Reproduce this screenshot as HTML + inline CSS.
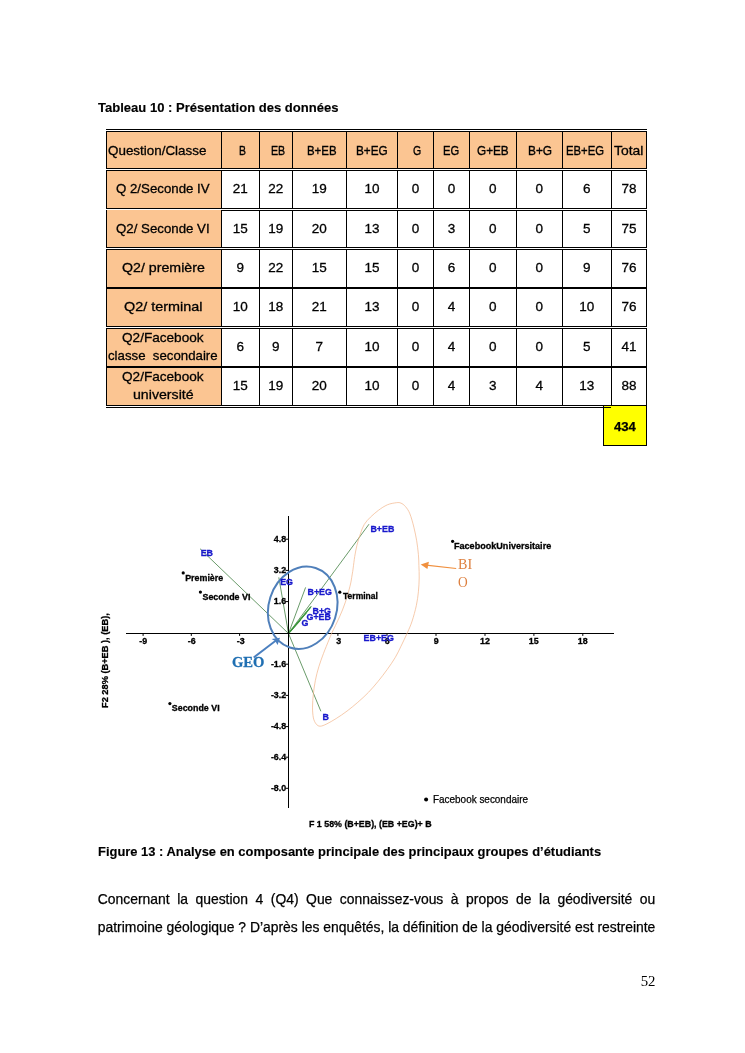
<!DOCTYPE html>
<html lang="fr"><head><meta charset="utf-8"><title>Page 52</title>
<style>
html,body{margin:0;padding:0;background:#fff;}
body{width:745px;height:1053px;position:relative;overflow:hidden;font-family:"Liberation Sans",sans-serif;}
#txt{position:absolute;left:0;top:0;width:745px;height:1053px;will-change:transform;}
.t{position:absolute;white-space:pre;line-height:1;transform-origin:0 0;margin:0;padding:0;}
svg.g{position:absolute;left:0;top:0;}
.p{position:absolute;left:97.8px;width:557.5px;margin:0;font-size:13.9px;line-height:1;text-align:justify;text-align-last:justify;color:#000;white-space:nowrap;-webkit-text-stroke:0.25px;}
</style></head><body>
<svg class="g" width="745" height="1053" viewBox="0 0 745 1053">
<g shape-rendering="crispEdges"><rect x="106" y="129" width="541" height="1" fill="#000"/><rect x="107" y="132" width="539" height="36" fill="#fbc592"/><rect x="106" y="131" width="541" height="1" fill="#000"/><rect x="106" y="168" width="541" height="1" fill="#000"/><rect x="106" y="131" width="1" height="38" fill="#000"/><rect x="221" y="131" width="1" height="38" fill="#000"/><rect x="259" y="131" width="1" height="38" fill="#000"/><rect x="292" y="131" width="1" height="38" fill="#000"/><rect x="346" y="131" width="1" height="38" fill="#000"/><rect x="397" y="131" width="1" height="38" fill="#000"/><rect x="433" y="131" width="1" height="38" fill="#000"/><rect x="469" y="131" width="1" height="38" fill="#000"/><rect x="516" y="131" width="1" height="38" fill="#000"/><rect x="562" y="131" width="1" height="38" fill="#000"/><rect x="611" y="131" width="1" height="38" fill="#000"/><rect x="646" y="131" width="1" height="38" fill="#000"/><rect x="107" y="171" width="114" height="37" fill="#fbc592"/><rect x="106" y="170" width="541" height="1" fill="#000"/><rect x="106" y="208" width="541" height="1" fill="#000"/><rect x="106" y="170" width="1" height="39" fill="#000"/><rect x="221" y="170" width="1" height="39" fill="#000"/><rect x="259" y="170" width="1" height="39" fill="#000"/><rect x="292" y="170" width="1" height="39" fill="#000"/><rect x="346" y="170" width="1" height="39" fill="#000"/><rect x="397" y="170" width="1" height="39" fill="#000"/><rect x="433" y="170" width="1" height="39" fill="#000"/><rect x="469" y="170" width="1" height="39" fill="#000"/><rect x="516" y="170" width="1" height="39" fill="#000"/><rect x="562" y="170" width="1" height="39" fill="#000"/><rect x="611" y="170" width="1" height="39" fill="#000"/><rect x="646" y="170" width="1" height="39" fill="#000"/><rect x="107" y="210" width="114" height="37" fill="#fbc592"/><rect x="221" y="210" width="426" height="1" fill="#000"/><rect x="106" y="247" width="541" height="1" fill="#000"/><rect x="106" y="210" width="1" height="38" fill="#000"/><rect x="221" y="210" width="1" height="38" fill="#000"/><rect x="259" y="210" width="1" height="38" fill="#000"/><rect x="292" y="210" width="1" height="38" fill="#000"/><rect x="346" y="210" width="1" height="38" fill="#000"/><rect x="397" y="210" width="1" height="38" fill="#000"/><rect x="433" y="210" width="1" height="38" fill="#000"/><rect x="469" y="210" width="1" height="38" fill="#000"/><rect x="516" y="210" width="1" height="38" fill="#000"/><rect x="562" y="210" width="1" height="38" fill="#000"/><rect x="611" y="210" width="1" height="38" fill="#000"/><rect x="646" y="210" width="1" height="38" fill="#000"/><rect x="107" y="250" width="114" height="37" fill="#fbc592"/><rect x="106" y="249" width="541" height="1" fill="#000"/><rect x="106" y="287" width="541" height="2" fill="#000"/><rect x="106" y="249" width="1" height="40" fill="#000"/><rect x="221" y="249" width="1" height="40" fill="#000"/><rect x="259" y="249" width="1" height="40" fill="#000"/><rect x="292" y="249" width="1" height="40" fill="#000"/><rect x="346" y="249" width="1" height="40" fill="#000"/><rect x="397" y="249" width="1" height="40" fill="#000"/><rect x="433" y="249" width="1" height="40" fill="#000"/><rect x="469" y="249" width="1" height="40" fill="#000"/><rect x="516" y="249" width="1" height="40" fill="#000"/><rect x="562" y="249" width="1" height="40" fill="#000"/><rect x="611" y="249" width="1" height="40" fill="#000"/><rect x="646" y="249" width="1" height="40" fill="#000"/><rect x="107" y="289" width="114" height="37" fill="#fbc592"/><rect x="106" y="326" width="541" height="1" fill="#000"/><rect x="106" y="289" width="1" height="38" fill="#000"/><rect x="221" y="289" width="1" height="38" fill="#000"/><rect x="259" y="289" width="1" height="38" fill="#000"/><rect x="292" y="289" width="1" height="38" fill="#000"/><rect x="346" y="289" width="1" height="38" fill="#000"/><rect x="397" y="289" width="1" height="38" fill="#000"/><rect x="433" y="289" width="1" height="38" fill="#000"/><rect x="469" y="289" width="1" height="38" fill="#000"/><rect x="516" y="289" width="1" height="38" fill="#000"/><rect x="562" y="289" width="1" height="38" fill="#000"/><rect x="611" y="289" width="1" height="38" fill="#000"/><rect x="646" y="289" width="1" height="38" fill="#000"/><rect x="107" y="329" width="114" height="37" fill="#fbc592"/><rect x="106" y="328" width="541" height="1" fill="#000"/><rect x="106" y="366" width="541" height="2" fill="#000"/><rect x="106" y="328" width="1" height="40" fill="#000"/><rect x="221" y="328" width="1" height="40" fill="#000"/><rect x="259" y="328" width="1" height="40" fill="#000"/><rect x="292" y="328" width="1" height="40" fill="#000"/><rect x="346" y="328" width="1" height="40" fill="#000"/><rect x="397" y="328" width="1" height="40" fill="#000"/><rect x="433" y="328" width="1" height="40" fill="#000"/><rect x="469" y="328" width="1" height="40" fill="#000"/><rect x="516" y="328" width="1" height="40" fill="#000"/><rect x="562" y="328" width="1" height="40" fill="#000"/><rect x="611" y="328" width="1" height="40" fill="#000"/><rect x="646" y="328" width="1" height="40" fill="#000"/><rect x="107" y="368" width="114" height="37" fill="#fbc592"/><rect x="106" y="405" width="541" height="1" fill="#000"/><rect x="106" y="368" width="1" height="38" fill="#000"/><rect x="221" y="368" width="1" height="38" fill="#000"/><rect x="259" y="368" width="1" height="38" fill="#000"/><rect x="292" y="368" width="1" height="38" fill="#000"/><rect x="346" y="368" width="1" height="38" fill="#000"/><rect x="397" y="368" width="1" height="38" fill="#000"/><rect x="433" y="368" width="1" height="38" fill="#000"/><rect x="469" y="368" width="1" height="38" fill="#000"/><rect x="516" y="368" width="1" height="38" fill="#000"/><rect x="562" y="368" width="1" height="38" fill="#000"/><rect x="611" y="368" width="1" height="38" fill="#000"/><rect x="646" y="368" width="1" height="38" fill="#000"/><rect x="106" y="407" width="505" height="1" fill="#000"/><rect x="604" y="406" width="42" height="39" fill="#ffff00"/><rect x="603" y="406" width="1" height="40" fill="#000"/><rect x="646" y="406" width="1" height="40" fill="#000"/><rect x="603" y="445" width="44" height="1" fill="#000"/><rect x="604" y="407" width="7" height="1" fill="#000"/></g>
<line x1="288.5" y1="633.5" x2="200.0" y2="548.7" stroke="#2a702a" stroke-width="0.7"/>
<line x1="288.5" y1="633.5" x2="278.8" y2="577.4" stroke="#2a702a" stroke-width="0.7"/>
<line x1="288.5" y1="633.5" x2="305.6" y2="587.4" stroke="#2a702a" stroke-width="0.7"/>
<line x1="288.5" y1="633.5" x2="311.5" y2="606.0" stroke="#2a702a" stroke-width="0.7"/>
<line x1="288.5" y1="633.5" x2="306.5" y2="613.0" stroke="#2a702a" stroke-width="0.7"/>
<line x1="288.5" y1="633.5" x2="300.5" y2="620.5" stroke="#2a702a" stroke-width="0.7"/>
<line x1="288.5" y1="633.5" x2="369.0" y2="524.2" stroke="#2a702a" stroke-width="0.7"/>
<line x1="288.5" y1="633.5" x2="320.9" y2="711.3" stroke="#2a702a" stroke-width="0.7"/>
<line x1="288.5" y1="633.5" x2="366" y2="633.5" stroke="#2a702a" stroke-width="0.7"/>
<line x1="288.5" y1="633.5" x2="310.8" y2="607.0" stroke="#3a9a3a" stroke-width="1.2"/>
<g shape-rendering="crispEdges">
<rect x="126" y="633" width="488" height="1" fill="#000"/>
<rect x="288" y="516" width="1" height="292" fill="#000"/>
</g>
<line x1="285.5" y1="539.2" x2="288.5" y2="539.2" stroke="#000" stroke-width="1"/>
<line x1="285.5" y1="570.4" x2="288.5" y2="570.4" stroke="#000" stroke-width="1"/>
<line x1="285.5" y1="601.6" x2="288.5" y2="601.6" stroke="#000" stroke-width="1"/>
<line x1="285.5" y1="664.2" x2="288.5" y2="664.2" stroke="#000" stroke-width="1"/>
<line x1="285.5" y1="695.4" x2="288.5" y2="695.4" stroke="#000" stroke-width="1"/>
<line x1="285.5" y1="726.6" x2="288.5" y2="726.6" stroke="#000" stroke-width="1"/>
<line x1="285.5" y1="757.2" x2="288.5" y2="757.2" stroke="#000" stroke-width="1"/>
<line x1="285.5" y1="788.3" x2="288.5" y2="788.3" stroke="#000" stroke-width="1"/>
<line x1="143.1" y1="633.5" x2="143.1" y2="635.9" stroke="#000" stroke-width="1"/>
<line x1="191.3" y1="633.5" x2="191.3" y2="635.9" stroke="#000" stroke-width="1"/>
<line x1="239.6" y1="633.5" x2="239.6" y2="635.9" stroke="#000" stroke-width="1"/>
<line x1="337.9" y1="633.5" x2="337.9" y2="635.9" stroke="#000" stroke-width="1"/>
<line x1="387.0" y1="633.5" x2="387.0" y2="635.9" stroke="#000" stroke-width="1"/>
<line x1="436.0" y1="633.5" x2="436.0" y2="635.9" stroke="#000" stroke-width="1"/>
<line x1="485.0" y1="633.5" x2="485.0" y2="635.9" stroke="#000" stroke-width="1"/>
<line x1="533.9" y1="633.5" x2="533.9" y2="635.9" stroke="#000" stroke-width="1"/>
<line x1="582.8" y1="633.5" x2="582.8" y2="635.9" stroke="#000" stroke-width="1"/>
<ellipse cx="302.7" cy="607.7" rx="34.0" ry="41.8" fill="none" stroke="#4f7fba" stroke-width="2.0" transform="rotate(18 302.7 607.7)"/>
<path d="M396.4,502.7 C398.6,502.4 399.4,502.5 400.9,503.1 C402.4,503.7 403.9,504.7 405.4,506.5 C406.9,508.3 408.5,510.3 409.9,513.8 C411.3,517.3 412.8,522.8 413.9,527.3 C415.0,531.8 415.9,536.3 416.7,540.8 C417.4,545.3 418.0,550.3 418.4,554.4 C418.8,558.5 418.8,561.7 418.9,565.6 C419.0,569.5 419.3,573.6 419.2,578.0 C419.1,582.4 418.9,587.2 418.4,591.8 C417.9,596.4 417.4,600.8 416.3,605.7 C415.2,610.6 413.6,616.6 412.1,621.1 C410.6,625.6 409.2,628.7 407.3,632.9 C405.4,637.1 403.0,642.1 401.0,646.2 C399.0,650.3 397.6,653.5 395.3,657.4 C393.0,661.3 390.1,665.5 387.2,669.5 C384.3,673.5 381.0,677.8 377.9,681.6 C374.8,685.4 371.9,688.8 368.5,692.3 C365.1,695.8 361.3,699.3 357.7,702.4 C354.1,705.5 350.6,708.4 347.0,711.1 C343.4,713.8 339.6,716.4 336.2,718.5 C332.8,720.6 329.5,722.6 326.8,723.9 C324.1,725.2 321.9,726.2 320.1,726.2 C318.3,726.2 317.2,725.3 316.1,723.9 C315.0,722.5 314.0,720.7 313.4,717.9 C312.8,715.1 312.5,711.1 312.5,707.1 C312.5,703.1 312.9,698.2 313.4,693.7 C313.9,689.2 314.5,684.8 315.4,680.3 C316.3,675.8 317.4,671.3 318.8,666.8 C320.2,662.3 321.8,657.9 323.5,653.4 C325.2,648.9 327.5,643.4 328.9,640.0 C330.3,636.6 330.1,636.8 331.9,632.9 C333.7,629.0 337.3,621.9 339.5,616.9 C341.7,611.9 343.4,608.0 345.1,602.9 C346.9,597.8 348.8,590.9 350.0,586.2 C351.2,581.6 351.6,578.0 352.1,575.0 C352.6,572.0 352.8,571.0 353.2,567.9 C353.6,564.8 354.1,560.4 354.7,556.6 C355.3,552.9 356.0,549.1 356.9,545.4 C357.8,541.6 359.1,537.6 360.3,534.1 C361.5,530.6 362.5,527.3 364.2,524.5 C365.9,521.7 368.0,519.6 370.4,517.2 C372.8,514.9 375.5,512.5 378.3,510.4 C381.1,508.3 384.4,506.1 387.4,504.8 C390.4,503.5 394.1,503.0 396.4,502.7 Z" fill="none" stroke="#f2b48a" stroke-width="0.7"/>
<line x1="253.7" y1="657.5" x2="276" y2="640.6" stroke="#4a7fbf" stroke-width="1.9"/>
<path d="M280.0,637.8 L277.6,645.0 L275.2,640.9 L271.6,639.0 Z" fill="#4a7fbf"/>
<line x1="456.2" y1="568.5" x2="426" y2="565.1" stroke="#f0903f" stroke-width="1.2"/>
<path d="M420.7,564.5 L428.9,561.7 L427.4,569.1 Z" fill="#f0903f"/>
<circle cx="183.2" cy="572.9" r="1.6" fill="#000"/>
<circle cx="200.4" cy="592.1" r="1.6" fill="#000"/>
<circle cx="339.8" cy="592.2" r="1.6" fill="#000"/>
<circle cx="169.9" cy="703.6" r="1.6" fill="#000"/>
<circle cx="452.6" cy="541.3" r="1.6" fill="#000"/>
<circle cx="426.1" cy="799.6" r="2.0" fill="#000"/>
</svg>
<div id="txt">
<div class="t" id="t0" style="left:97.80px;top:100.51px;font-size:13.1px;font-weight:700;-webkit-text-stroke:0.15px;transform:scaleX(0.9965);">Tableau 10 : Présentation des données</div>
<div class="t" id="t1" style="left:98.20px;top:844.71px;font-size:13.1px;font-weight:700;-webkit-text-stroke:0.15px;transform:scaleX(0.9873);">Figure 13 : Analyse en composante principale des principaux groupes d’étudiants</div>
<div class="t" id="t2" style="left:640.70px;top:974.11px;font-size:14.8px;font-family:'Liberation Serif', serif;">52</div>
<div class="t" id="t3" style="left:107.60px;top:143.57px;font-size:13.5px;-webkit-text-stroke:0.3px;transform:scaleX(0.9933);">Question/Classe</div>
<div class="t" id="t4" style="left:238.70px;top:143.57px;font-size:13.5px;-webkit-text-stroke:0.35px;transform:scaleX(0.7764);">B</div>
<div class="t" id="t5" style="left:270.70px;top:143.57px;font-size:13.5px;-webkit-text-stroke:0.35px;transform:scaleX(0.7882);">EB</div>
<div class="t" id="t6" style="left:306.60px;top:143.57px;font-size:13.5px;-webkit-text-stroke:0.35px;transform:scaleX(0.8451);">B+EB</div>
<div class="t" id="t7" style="left:356.10px;top:143.57px;font-size:13.5px;-webkit-text-stroke:0.35px;transform:scaleX(0.8707);">B+EG</div>
<div class="t" id="t8" style="left:413.00px;top:143.57px;font-size:13.5px;-webkit-text-stroke:0.35px;transform:scaleX(0.7798);">G</div>
<div class="t" id="t9" style="left:443.20px;top:143.57px;font-size:13.5px;-webkit-text-stroke:0.35px;transform:scaleX(0.8301);">EG</div>
<div class="t" id="t10" style="left:476.90px;top:143.57px;font-size:13.5px;-webkit-text-stroke:0.35px;transform:scaleX(0.8707);">G+EB</div>
<div class="t" id="t11" style="left:527.50px;top:143.57px;font-size:13.5px;-webkit-text-stroke:0.35px;transform:scaleX(0.8799);">B+G</div>
<div class="t" id="t12" style="left:565.60px;top:143.57px;font-size:13.5px;-webkit-text-stroke:0.35px;transform:scaleX(0.8369);">EB+EG</div>
<div class="t" id="t13" style="left:614.00px;top:143.57px;font-size:13.5px;-webkit-text-stroke:0.3px;transform:scaleX(1.0304);">Total</div>
<div class="t" id="t14" style="left:232.78px;top:181.97px;font-size:13.5px;-webkit-text-stroke:0.3px;">21</div>
<div class="t" id="t15" style="left:268.33px;top:181.97px;font-size:13.5px;-webkit-text-stroke:0.3px;">22</div>
<div class="t" id="t16" style="left:311.83px;top:181.97px;font-size:13.5px;-webkit-text-stroke:0.3px;">19</div>
<div class="t" id="t17" style="left:364.38px;top:181.97px;font-size:13.5px;-webkit-text-stroke:0.3px;">10</div>
<div class="t" id="t18" style="left:411.69px;top:181.97px;font-size:13.5px;-webkit-text-stroke:0.3px;">0</div>
<div class="t" id="t19" style="left:447.64px;top:181.97px;font-size:13.5px;-webkit-text-stroke:0.3px;">0</div>
<div class="t" id="t20" style="left:489.09px;top:181.97px;font-size:13.5px;-webkit-text-stroke:0.3px;">0</div>
<div class="t" id="t21" style="left:535.39px;top:181.97px;font-size:13.5px;-webkit-text-stroke:0.3px;">0</div>
<div class="t" id="t22" style="left:582.99px;top:181.97px;font-size:13.5px;-webkit-text-stroke:0.3px;">6</div>
<div class="t" id="t23" style="left:621.48px;top:181.97px;font-size:13.5px;-webkit-text-stroke:0.3px;">78</div>
<div class="t" id="t24" style="left:232.78px;top:221.57px;font-size:13.5px;-webkit-text-stroke:0.3px;">15</div>
<div class="t" id="t25" style="left:268.33px;top:221.57px;font-size:13.5px;-webkit-text-stroke:0.3px;">19</div>
<div class="t" id="t26" style="left:311.83px;top:221.57px;font-size:13.5px;-webkit-text-stroke:0.3px;">20</div>
<div class="t" id="t27" style="left:364.38px;top:221.57px;font-size:13.5px;-webkit-text-stroke:0.3px;">13</div>
<div class="t" id="t28" style="left:411.69px;top:221.57px;font-size:13.5px;-webkit-text-stroke:0.3px;">0</div>
<div class="t" id="t29" style="left:447.64px;top:221.57px;font-size:13.5px;-webkit-text-stroke:0.3px;">3</div>
<div class="t" id="t30" style="left:489.09px;top:221.57px;font-size:13.5px;-webkit-text-stroke:0.3px;">0</div>
<div class="t" id="t31" style="left:535.39px;top:221.57px;font-size:13.5px;-webkit-text-stroke:0.3px;">0</div>
<div class="t" id="t32" style="left:582.99px;top:221.57px;font-size:13.5px;-webkit-text-stroke:0.3px;">5</div>
<div class="t" id="t33" style="left:621.48px;top:221.57px;font-size:13.5px;-webkit-text-stroke:0.3px;">75</div>
<div class="t" id="t34" style="left:236.54px;top:261.17px;font-size:13.5px;-webkit-text-stroke:0.3px;">9</div>
<div class="t" id="t35" style="left:268.33px;top:261.17px;font-size:13.5px;-webkit-text-stroke:0.3px;">22</div>
<div class="t" id="t36" style="left:311.83px;top:261.17px;font-size:13.5px;-webkit-text-stroke:0.3px;">15</div>
<div class="t" id="t37" style="left:364.38px;top:261.17px;font-size:13.5px;-webkit-text-stroke:0.3px;">15</div>
<div class="t" id="t38" style="left:411.69px;top:261.17px;font-size:13.5px;-webkit-text-stroke:0.3px;">0</div>
<div class="t" id="t39" style="left:447.64px;top:261.17px;font-size:13.5px;-webkit-text-stroke:0.3px;">6</div>
<div class="t" id="t40" style="left:489.09px;top:261.17px;font-size:13.5px;-webkit-text-stroke:0.3px;">0</div>
<div class="t" id="t41" style="left:535.39px;top:261.17px;font-size:13.5px;-webkit-text-stroke:0.3px;">0</div>
<div class="t" id="t42" style="left:582.99px;top:261.17px;font-size:13.5px;-webkit-text-stroke:0.3px;">9</div>
<div class="t" id="t43" style="left:621.48px;top:261.17px;font-size:13.5px;-webkit-text-stroke:0.3px;">76</div>
<div class="t" id="t44" style="left:232.78px;top:300.17px;font-size:13.5px;-webkit-text-stroke:0.3px;">10</div>
<div class="t" id="t45" style="left:268.33px;top:300.17px;font-size:13.5px;-webkit-text-stroke:0.3px;">18</div>
<div class="t" id="t46" style="left:311.83px;top:300.17px;font-size:13.5px;-webkit-text-stroke:0.3px;">21</div>
<div class="t" id="t47" style="left:364.38px;top:300.17px;font-size:13.5px;-webkit-text-stroke:0.3px;">13</div>
<div class="t" id="t48" style="left:411.69px;top:300.17px;font-size:13.5px;-webkit-text-stroke:0.3px;">0</div>
<div class="t" id="t49" style="left:447.64px;top:300.17px;font-size:13.5px;-webkit-text-stroke:0.3px;">4</div>
<div class="t" id="t50" style="left:489.09px;top:300.17px;font-size:13.5px;-webkit-text-stroke:0.3px;">0</div>
<div class="t" id="t51" style="left:535.39px;top:300.17px;font-size:13.5px;-webkit-text-stroke:0.3px;">0</div>
<div class="t" id="t52" style="left:579.23px;top:300.17px;font-size:13.5px;-webkit-text-stroke:0.3px;">10</div>
<div class="t" id="t53" style="left:621.48px;top:300.17px;font-size:13.5px;-webkit-text-stroke:0.3px;">76</div>
<div class="t" id="t54" style="left:236.54px;top:339.57px;font-size:13.5px;-webkit-text-stroke:0.3px;">6</div>
<div class="t" id="t55" style="left:272.09px;top:339.57px;font-size:13.5px;-webkit-text-stroke:0.3px;">9</div>
<div class="t" id="t56" style="left:315.59px;top:339.57px;font-size:13.5px;-webkit-text-stroke:0.3px;">7</div>
<div class="t" id="t57" style="left:364.38px;top:339.57px;font-size:13.5px;-webkit-text-stroke:0.3px;">10</div>
<div class="t" id="t58" style="left:411.69px;top:339.57px;font-size:13.5px;-webkit-text-stroke:0.3px;">0</div>
<div class="t" id="t59" style="left:447.64px;top:339.57px;font-size:13.5px;-webkit-text-stroke:0.3px;">4</div>
<div class="t" id="t60" style="left:489.09px;top:339.57px;font-size:13.5px;-webkit-text-stroke:0.3px;">0</div>
<div class="t" id="t61" style="left:535.39px;top:339.57px;font-size:13.5px;-webkit-text-stroke:0.3px;">0</div>
<div class="t" id="t62" style="left:582.99px;top:339.57px;font-size:13.5px;-webkit-text-stroke:0.3px;">5</div>
<div class="t" id="t63" style="left:621.48px;top:339.57px;font-size:13.5px;-webkit-text-stroke:0.3px;">41</div>
<div class="t" id="t64" style="left:232.78px;top:379.17px;font-size:13.5px;-webkit-text-stroke:0.3px;">15</div>
<div class="t" id="t65" style="left:268.33px;top:379.17px;font-size:13.5px;-webkit-text-stroke:0.3px;">19</div>
<div class="t" id="t66" style="left:311.83px;top:379.17px;font-size:13.5px;-webkit-text-stroke:0.3px;">20</div>
<div class="t" id="t67" style="left:364.38px;top:379.17px;font-size:13.5px;-webkit-text-stroke:0.3px;">10</div>
<div class="t" id="t68" style="left:411.69px;top:379.17px;font-size:13.5px;-webkit-text-stroke:0.3px;">0</div>
<div class="t" id="t69" style="left:447.64px;top:379.17px;font-size:13.5px;-webkit-text-stroke:0.3px;">4</div>
<div class="t" id="t70" style="left:489.09px;top:379.17px;font-size:13.5px;-webkit-text-stroke:0.3px;">3</div>
<div class="t" id="t71" style="left:535.39px;top:379.17px;font-size:13.5px;-webkit-text-stroke:0.3px;">4</div>
<div class="t" id="t72" style="left:579.23px;top:379.17px;font-size:13.5px;-webkit-text-stroke:0.3px;">13</div>
<div class="t" id="t73" style="left:621.48px;top:379.17px;font-size:13.5px;-webkit-text-stroke:0.3px;">88</div>
<div class="t" id="t74" style="left:116.40px;top:181.97px;font-size:13.5px;-webkit-text-stroke:0.3px;transform:scaleX(0.9820);">Q 2/Seconde IV</div>
<div class="t" id="t75" style="left:116.40px;top:221.57px;font-size:13.5px;-webkit-text-stroke:0.3px;transform:scaleX(0.9820);">Q2/ Seconde VI</div>
<div class="t" id="t76" style="left:121.60px;top:261.17px;font-size:13.5px;-webkit-text-stroke:0.3px;transform:scaleX(1.0510);">Q2/ première</div>
<div class="t" id="t77" style="left:124.00px;top:300.17px;font-size:13.5px;-webkit-text-stroke:0.3px;transform:scaleX(1.0662);">Q2/ terminal</div>
<div class="t" id="t78" style="left:122.40px;top:331.17px;font-size:13.5px;-webkit-text-stroke:0.3px;transform:scaleX(1.0068);">Q2/Facebook</div>
<div class="t" id="t79" style="left:108.40px;top:349.17px;font-size:13.5px;-webkit-text-stroke:0.3px;transform:scaleX(0.9802);">classe  secondaire</div>
<div class="t" id="t80" style="left:122.40px;top:370.17px;font-size:13.5px;-webkit-text-stroke:0.3px;transform:scaleX(1.0068);">Q2/Facebook</div>
<div class="t" id="t81" style="left:133.00px;top:388.17px;font-size:13.5px;-webkit-text-stroke:0.3px;transform:scaleX(1.0488);">université</div>
<div class="t" id="t82" style="left:613.80px;top:419.86px;font-size:13.4px;font-weight:700;-webkit-text-stroke:0.25px;transform:scaleX(0.9801);">434</div>
<div class="t" id="t83" style="left:273.86px;top:534.97px;font-size:8.9px;font-weight:700;-webkit-text-stroke:0.3px;">4.8</div>
<div class="t" id="t84" style="left:273.86px;top:566.17px;font-size:8.9px;font-weight:700;-webkit-text-stroke:0.3px;">3.2</div>
<div class="t" id="t85" style="left:273.86px;top:597.37px;font-size:8.9px;font-weight:700;-webkit-text-stroke:0.3px;">1.6</div>
<div class="t" id="t86" style="left:270.90px;top:659.97px;font-size:8.9px;font-weight:700;-webkit-text-stroke:0.3px;">-1.6</div>
<div class="t" id="t87" style="left:270.90px;top:691.17px;font-size:8.9px;font-weight:700;-webkit-text-stroke:0.3px;">-3.2</div>
<div class="t" id="t88" style="left:270.90px;top:722.37px;font-size:8.9px;font-weight:700;-webkit-text-stroke:0.3px;">-4.8</div>
<div class="t" id="t89" style="left:270.90px;top:752.97px;font-size:8.9px;font-weight:700;-webkit-text-stroke:0.3px;">-6.4</div>
<div class="t" id="t90" style="left:270.90px;top:784.07px;font-size:8.9px;font-weight:700;-webkit-text-stroke:0.3px;">-8.0</div>
<div class="t" id="t91" style="left:139.25px;top:636.77px;font-size:8.9px;font-weight:700;-webkit-text-stroke:0.3px;">-9</div>
<div class="t" id="t92" style="left:187.85px;top:636.77px;font-size:8.9px;font-weight:700;-webkit-text-stroke:0.3px;">-6</div>
<div class="t" id="t93" style="left:236.85px;top:636.77px;font-size:8.9px;font-weight:700;-webkit-text-stroke:0.3px;">-3</div>
<div class="t" id="t94" style="left:336.13px;top:636.77px;font-size:8.9px;font-weight:700;-webkit-text-stroke:0.3px;">3</div>
<div class="t" id="t95" style="left:384.73px;top:636.77px;font-size:8.9px;font-weight:700;-webkit-text-stroke:0.3px;">6</div>
<div class="t" id="t96" style="left:433.63px;top:636.77px;font-size:8.9px;font-weight:700;-webkit-text-stroke:0.3px;">9</div>
<div class="t" id="t97" style="left:480.06px;top:636.77px;font-size:8.9px;font-weight:700;-webkit-text-stroke:0.3px;">12</div>
<div class="t" id="t98" style="left:528.86px;top:636.77px;font-size:8.9px;font-weight:700;-webkit-text-stroke:0.3px;">15</div>
<div class="t" id="t99" style="left:577.86px;top:636.77px;font-size:8.9px;font-weight:700;-webkit-text-stroke:0.3px;">18</div>
<div class="t" id="t100" style="left:200.70px;top:548.67px;font-size:8.9px;font-weight:700;color:#1818cc;-webkit-text-stroke:0.3px;">EB</div>
<div class="t" id="t101" style="left:280.20px;top:577.77px;font-size:8.9px;font-weight:700;color:#1818cc;-webkit-text-stroke:0.3px;">EG</div>
<div class="t" id="t102" style="left:307.50px;top:587.87px;font-size:8.9px;font-weight:700;color:#1818cc;-webkit-text-stroke:0.3px;">B+EG</div>
<div class="t" id="t103" style="left:312.50px;top:607.27px;font-size:8.9px;font-weight:700;color:#1818cc;-webkit-text-stroke:0.3px;">B+G</div>
<div class="t" id="t104" style="left:306.50px;top:613.27px;font-size:8.9px;font-weight:700;color:#1818cc;-webkit-text-stroke:0.3px;">G+EB</div>
<div class="t" id="t105" style="left:301.50px;top:619.27px;font-size:8.9px;font-weight:700;color:#1818cc;-webkit-text-stroke:0.3px;">G</div>
<div class="t" id="t106" style="left:370.40px;top:524.97px;font-size:8.9px;font-weight:700;color:#1818cc;-webkit-text-stroke:0.3px;">B+EB</div>
<div class="t" id="t107" style="left:363.60px;top:634.07px;font-size:8.9px;font-weight:700;color:#1818cc;-webkit-text-stroke:0.3px;">EB+EG</div>
<div class="t" id="t108" style="left:322.40px;top:712.67px;font-size:8.9px;font-weight:700;color:#1818cc;-webkit-text-stroke:0.3px;">B</div>
<div class="t" id="t109" style="left:185.20px;top:573.87px;font-size:8.9px;font-weight:700;-webkit-text-stroke:0.3px;">Première</div>
<div class="t" id="t110" style="left:202.50px;top:593.07px;font-size:8.9px;font-weight:700;-webkit-text-stroke:0.3px;">Seconde VI</div>
<div class="t" id="t111" style="left:343.00px;top:592.27px;font-size:8.9px;font-weight:700;-webkit-text-stroke:0.3px;transform:scaleX(0.9603);">Terminal</div>
<div class="t" id="t112" style="left:171.80px;top:704.07px;font-size:8.9px;font-weight:700;-webkit-text-stroke:0.3px;">Seconde VI</div>
<div class="t" id="t113" style="left:454.00px;top:541.67px;font-size:8.9px;font-weight:700;-webkit-text-stroke:0.3px;transform:scaleX(1.0210);">FacebookUniversitaire</div>
<div class="t" id="t114" style="left:308.90px;top:820.37px;font-size:8.9px;font-weight:700;-webkit-text-stroke:0.3px;transform:scaleX(0.9962);">F 1 58% (B+EB), (EB +EG)+ B</div>
<div class="t" id="t115" style="left:107.70px;top:708.40px;font-size:9.6px;font-weight:700;-webkit-text-stroke:0.3px;transform-origin:0 0;transform:rotate(-90deg) translate(0,-8.13px) scaleX(0.9638);">F2 28% (B+EB ), (EB),</div>
<div class="t" id="t116" style="left:432.70px;top:794.06px;font-size:10.8px;-webkit-text-stroke:0.25px;transform:scaleX(0.9201);">Facebook secondaire</div>
<div class="t" id="t117" style="left:232.00px;top:653.77px;font-size:15.2px;font-weight:700;font-family:'Liberation Serif', serif;color:#1f6fb2;-webkit-text-stroke:0.3px;transform:scaleX(0.9625);">GEO</div>
<div class="t" id="t118" style="left:457.90px;top:557.40px;font-size:14.8px;font-family:'Liberation Serif', serif;color:#dd7f3e;transform:scaleX(0.9529);">BI</div>
<div class="t" id="t119" style="left:457.90px;top:575.11px;font-size:14.8px;font-family:'Liberation Serif', serif;color:#dd7f3e;transform:scaleX(0.9076);">O</div>
<p class="p" id="p1" style="top:892.5px">Concernant la question 4 (Q4) Que connaissez-vous à propos de la géodiversité ou</p>
<p class="p" id="p2" style="top:921.3px">patrimoine géologique ? D’après les enquêtés, la définition de la géodiversité est restreinte</p>
</div>
</body></html>
